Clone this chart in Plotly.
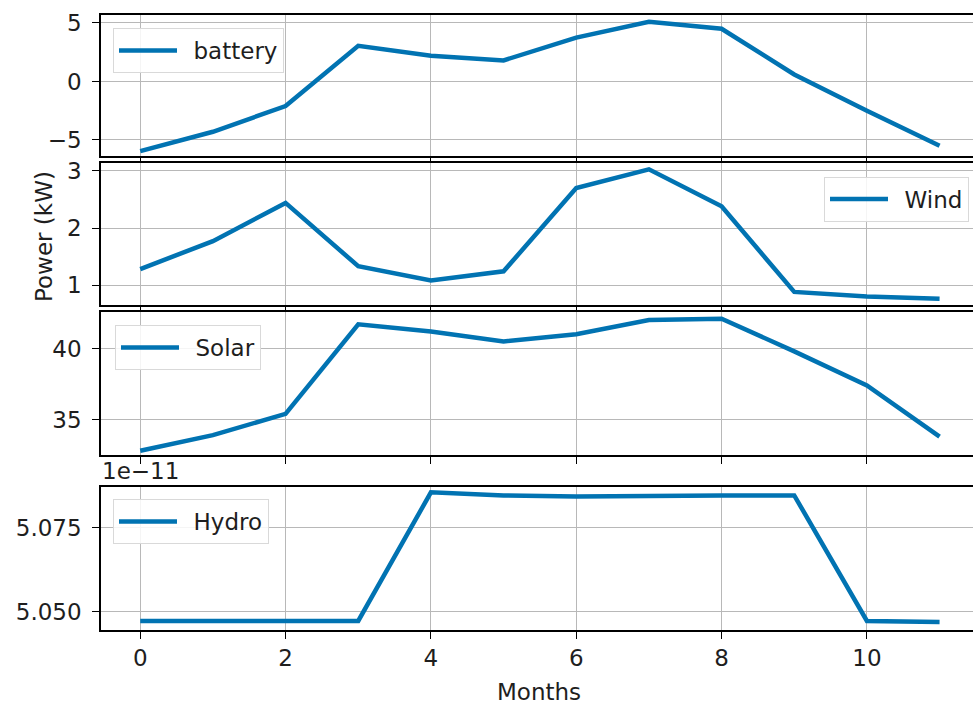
import plotly.graph_objects as go

# Monthly power by source
months = list(range(12))
battery = [-5.95, -4.3, -2.1, 3.05, 2.2, 1.8, 3.75, 5.1, 4.5, 0.6, -2.5, -5.5]
wind = [1.28, 1.77, 2.44, 1.33, 1.08, 1.24, 2.70, 3.03, 2.38, 0.88, 0.80, 0.76]
solar = [32.8, 33.9, 35.4, 41.7, 41.2, 40.5, 41.0, 42.0, 42.1, 39.8, 37.4, 33.8]
hydro = [5.0472e-11, 5.0472e-11, 5.0469e-11, 5.0472e-11, 5.0855e-11, 5.0846e-11,
         5.0843e-11, 5.0846e-11, 5.0846e-11, 5.0846e-11, 5.0472e-11, 5.0469e-11]

series_names = ["battery", "Wind", "Solar", "Hydro"]
x_ticks = [0, 2, 4, 6, 8, 10]
battery_ticks = [-5, 0, 5]
wind_ticks = [1, 2, 3]
solar_ticks = [35, 40]
hydro_ticks = [5.050e-11, 5.075e-11]
hydro_scale = 1e-11

W, H = 973, 704
LINE = "#0173b2"
FONT = "DejaVu Sans"
FS = 23
TXT = "#1e1e1e"

fig = go.Figure()

def py(px):
    return 1 - px / H

# panel edges in pixels (top, bottom)
panels = [(15, 156), (163, 305), (312, 455), (487, 630)]
data = [battery, wind, solar, hydro]
yranges = [[-6.37, 5.68], [0.65, 3.14], [32.5, 42.57], [5.0445e-11, 5.0871e-11]]
yticks = [battery_ticks, wind_ticks, solar_ticks, hydro_ticks]
legend_pos = [
    dict(x=113 / W, y=py(50.5), xanchor="left", yanchor="middle"),
    dict(x=969 / W, y=py(199), xanchor="right", yanchor="middle"),
    dict(x=115 / W, y=py(347.5), xanchor="left", yanchor="middle"),
    dict(x=113 / W, y=py(521.5), xanchor="left", yanchor="middle"),
]

layout = dict(
    width=W, height=H,
    margin=dict(l=0, r=0, t=0, b=0),
    paper_bgcolor="white", plot_bgcolor="white",
    font=dict(family=FONT, size=FS, color=TXT),
    showlegend=True,
)

for i, (name, ys) in enumerate(zip(series_names, data)):
    k = "" if i == 0 else str(i + 1)
    leg = "legend" + k
    fig.add_trace(go.Scatter(
        x=months, y=ys, mode="lines", name="\u2002" + name,
        line=dict(color=LINE, width=4.5),
        xaxis="x" + k, yaxis="y" + k, legend=leg,
    ))
    top, bot = panels[i]
    if i == 3:
        ticktext = [f"{v / hydro_scale:.3f}" for v in yticks[i]]
    else:
        ticktext = [str(v).replace("-", "\u2212") for v in yticks[i]]
    layout["xaxis" + k] = dict(
        domain=[101 / W, 1], range=[-0.54, 11.46],
        anchor="y" + k, automargin=False,
        tickvals=x_ticks, showticklabels=(i == 3),
        ticks="outside", ticklen=7, tickwidth=1.3, tickcolor="black",
        showline=True, linecolor="black", linewidth=1.5, mirror=True,
        showgrid=True, gridcolor="#b8b8b8", gridwidth=1.3,
        zeroline=False,
    )
    layout["yaxis" + k] = dict(
        domain=[py(bot), py(top)], range=yranges[i],
        anchor="x" + k, automargin=False,
        tickvals=yticks[i], ticktext=ticktext,
        ticks="outside", ticklen=7, tickwidth=1.3, tickcolor="black",
        ticklabelstandoff=6,
        showline=True, linecolor="black", linewidth=1.5, mirror=False,
        showgrid=True, gridcolor="#b8b8b8", gridwidth=1.3,
        zeroline=False,
    )
    layout[leg] = dict(
        **legend_pos[i],
        bgcolor="rgba(255,255,255,0.85)", bordercolor="#d9d9d9", borderwidth=1,
        font=dict(family=FONT, size=FS, color=TXT),
        itemwidth=58,
    )

fig.update_layout(**layout)

# axis labels and offset text for the hydro panel
fig.add_annotation(text="Months", x=539 / W, y=py(692), xref="paper", yref="paper",
                   xanchor="center", yanchor="middle", showarrow=False, font=dict(size=FS))
fig.add_annotation(text="Power (kW)", x=44 / W, y=py(237), xref="paper", yref="paper",
                   xanchor="center", yanchor="middle",
                   textangle=-90, showarrow=False, font=dict(size=FS))
fig.add_annotation(text="1e\u221211", x=100 / W, y=py(471), xref="paper", yref="paper",
                   xanchor="left", yanchor="middle", showarrow=False, font=dict(size=FS))

fig.write_html("out.html")
